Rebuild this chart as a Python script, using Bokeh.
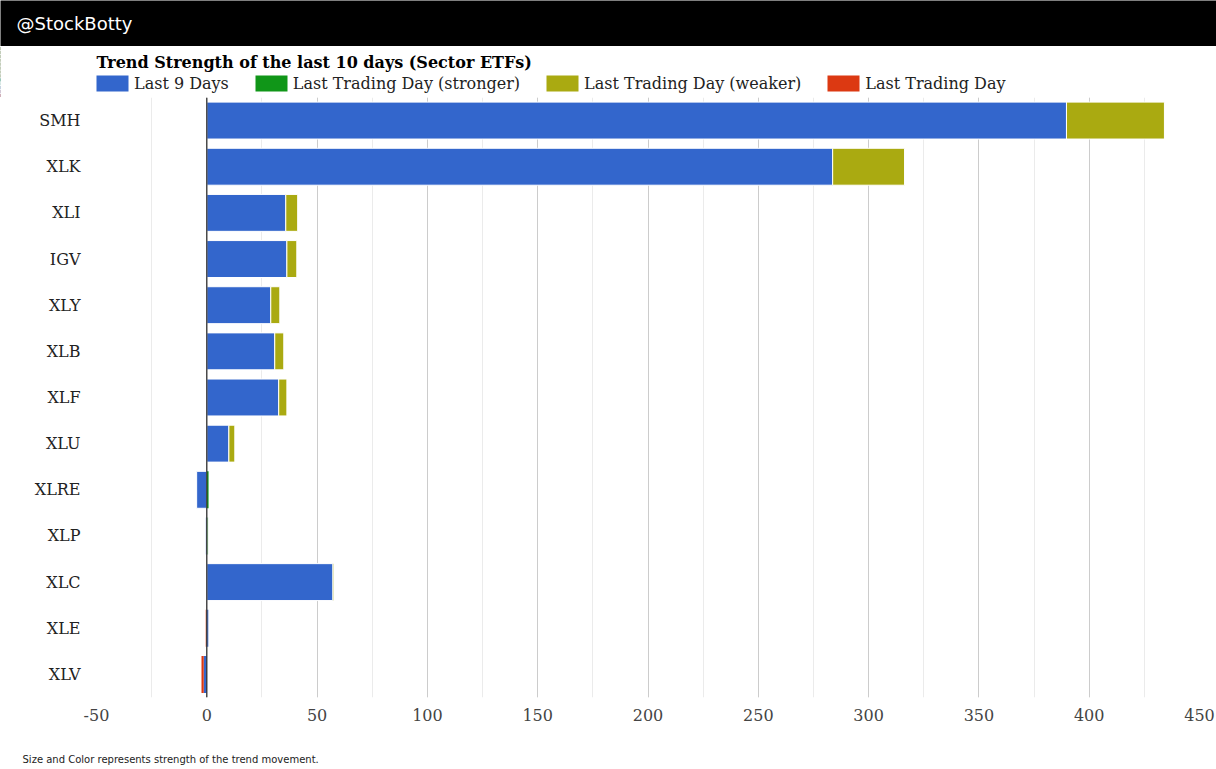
import numpy as np
from bokeh.plotting import figure
from bokeh.models import (ColumnDataSource, FactorRange, Range1d, Legend, LegendItem,
                          Span, SingleIntervalTicker, PrintfTickFormatter, Label)
from bokeh.layouts import column
from bokeh.embed import file_html
from bokeh.resources import INLINE

# ---- data ----
categories = ["SMH", "XLK", "XLI", "IGV", "XLY", "XLB", "XLF", "XLU",
              "XLRE", "XLP", "XLC", "XLE", "XLV"]
last_9_days = [389.7, 283.7, 35.8, 36.3, 29.0, 30.8, 32.6, 10.0,
               -4.6, -0.5, 57.1, 0.7, -1.4]
last_day = [44.4, 32.6, 5.4, 4.5, 4.1, 4.1, 3.7, 2.7,
            0.8, 0.6, 0.5, -0.6, -1.0]
last_day_kind = ["weaker", "weaker", "weaker", "weaker", "weaker", "weaker", "weaker", "weaker",
                 "stronger", "stronger", "weaker", "down", "down"]
# opacity (strength) of each bar
last_9_alpha = [1, 1, 1, 1, 1, 1, 1, 1, 1, 0.4, 1, 0.85, 1]
last_day_alpha = [1, 1, 1, 1, 1, 1, 1, 1, 1, 0.4, 0.3, 0.5, 1]

legend_labels = ["Last 9 Days", "Last Trading Day (stronger)", "Last Trading Day (weaker)",
                 "Last Trading Day"]
title_text = "Trend Strength of the last 10 days (Sector ETFs)"
footer_text = "Size and Color represents strength of the trend movement."
brand_text = "@StockBotty"

BLUE = "#3366cc"
KIND_COLOR = {"stronger": "#109618", "weaker": "#aaaa11", "down": "#dc3912"}
SERIF = "DejaVu Serif"

# ---- stacking (positives and negatives stack separately from zero) ----
b = np.array(last_9_days, dtype=float)
d = np.array(last_day, dtype=float)
b_left = np.minimum(b, 0)
b_right = np.maximum(b, 0)
same = np.sign(b) == np.sign(d)
d_start = np.where(same, b, 0.0)
d_end = d_start + d
d_left = np.minimum(d_start, d_end)
d_right = np.maximum(d_start, d_end)
# white separating outline only on bars wide enough to carry it
b_line = np.where(np.abs(b) > 1.5, 1.0, 0.0)
d_line = np.where(np.abs(d) > 1.5, 1.0, 0.0)

src_b = ColumnDataSource(dict(y=categories, left=b_left, right=b_right, a=last_9_alpha,
                              la=b_line))
src_d = ColumnDataSource(dict(y=categories, left=d_left, right=d_right, a=last_day_alpha,
                              la=d_line, c=[KIND_COLOR[k] for k in last_day_kind]))

W = 1216
HEAD_H = 46
LEG_H = 51
FOOT_H = 32

y_range = FactorRange(factors=categories[::-1])
x_range = Range1d(-50, 450)


def bare(height, bg="white", xr=None, yr=None):
    f = figure(width=W, height=height, x_range=xr if xr is not None else Range1d(0, W),
               y_range=yr if yr is not None else Range1d(0, height),
               toolbar_location=None, output_backend="svg", x_axis_type=None,
               y_axis_type=None, min_border=0, background_fill_color=bg,
               border_fill_color=bg, outline_line_color=None)
    f.frame_align = False
    f.grid.visible = False
    return f


# ---- header ----
head = bare(HEAD_H, bg="black")
head.add_layout(Label(x=16, y=23, x_units="screen", y_units="screen", text=brand_text,
                      text_color="white", text_font="DejaVu Sans", text_font_size="18px",
                      text_baseline="middle"))

# ---- title + legend strip (legend proxies lie far outside this strip's x range) ----
lf = bare(LEG_H, xr=Range1d(1e6, 1e6 + 1), yr=FactorRange(factors=categories[::-1]))
lr_b = lf.hbar(y="y", left="left", right="right", height=0.8, source=src_b,
               fill_color=BLUE, fill_alpha="a", line_color=None)
lr_d = lf.hbar(y="y", left="left", right="right", height=0.8, source=src_d,
               fill_color="c", fill_alpha="a", line_color=None)
first = {k: last_day_kind.index(k) for k in ("stronger", "weaker")}
first["down"] = len(last_day_kind) - 1
items = [LegendItem(label=legend_labels[0], renderers=[lr_b], index=0),
         LegendItem(label=legend_labels[1], renderers=[lr_d], index=first["stronger"]),
         LegendItem(label=legend_labels[2], renderers=[lr_d], index=first["weaker"]),
         LegendItem(label=legend_labels[3], renderers=[lr_d], index=first["down"])]
leg = Legend(items=items, orientation="horizontal", location=(92, 4),
             glyph_width=40, glyph_height=20, label_standoff=2, spacing=22,
             padding=0, margin=0, border_line_color=None, background_fill_alpha=0,
             label_text_font=SERIF, label_text_font_size="16px", label_text_color="#222222",
             label_height=20)
lf.add_layout(leg, "center")
lf.add_layout(Label(x=96, y=35, x_units="screen", y_units="screen", text=title_text,
                    text_font=SERIF, text_font_size="16px", text_font_style="bold",
                    text_color="black", text_baseline="middle"))

# ---- main chart ----
p = figure(frame_width=1103, frame_height=600, y_range=y_range, x_range=x_range,
           toolbar_location=None, output_backend="svg",
           min_border_left=96, min_border_right=17, min_border_top=0, min_border_bottom=40,
           outline_line_color=None, background_fill_color="white", border_fill_color="white")
p.frame_align = False

p.hbar(y="y", left="left", right="right", height=0.8, source=src_b, fill_color=BLUE,
       fill_alpha="a", line_color="white", line_alpha="la", line_width=1)
p.hbar(y="y", left="left", right="right", height=0.8, source=src_d, fill_color="c",
       fill_alpha="a", line_color="white", line_alpha="la", line_width=1)

p.add_layout(Span(location=0, dimension="height", line_color="#333333", line_width=1.3))

# axes / grid
ticker = SingleIntervalTicker(interval=50, num_minor_ticks=2)
p.xaxis.ticker = ticker
p.xgrid.ticker = ticker
p.xaxis.formatter = PrintfTickFormatter(format="%d")
p.xgrid.grid_line_color = "#cccccc"
p.xgrid.minor_grid_line_color = "#ebebeb"
p.ygrid.grid_line_color = None
for ax in (p.xaxis, p.yaxis):
    ax.axis_line_color = None
    ax.major_tick_line_color = None
    ax.minor_tick_line_color = None
    ax.major_tick_out = 0
    ax.major_tick_in = 0
    ax.minor_tick_out = 0
    ax.minor_tick_in = 0
    ax.major_label_text_font = SERIF
    ax.major_label_text_font_size = "16px"
p.xaxis.major_label_standoff = 11
p.xaxis.major_label_text_color = "#444444"
p.yaxis.major_label_standoff = 16
p.yaxis.major_label_text_color = "#222222"

# ---- footer ----
foot = bare(FOOT_H)
foot.add_layout(Label(x=22, y=10, x_units="screen", y_units="screen", text=footer_text,
                      text_color="#222222", text_font="DejaVu Sans", text_font_size="10px",
                      text_baseline="middle"))

layout = column(head, lf, p, foot, spacing=0)
open("out.html", "w").write(file_html(layout, INLINE))
